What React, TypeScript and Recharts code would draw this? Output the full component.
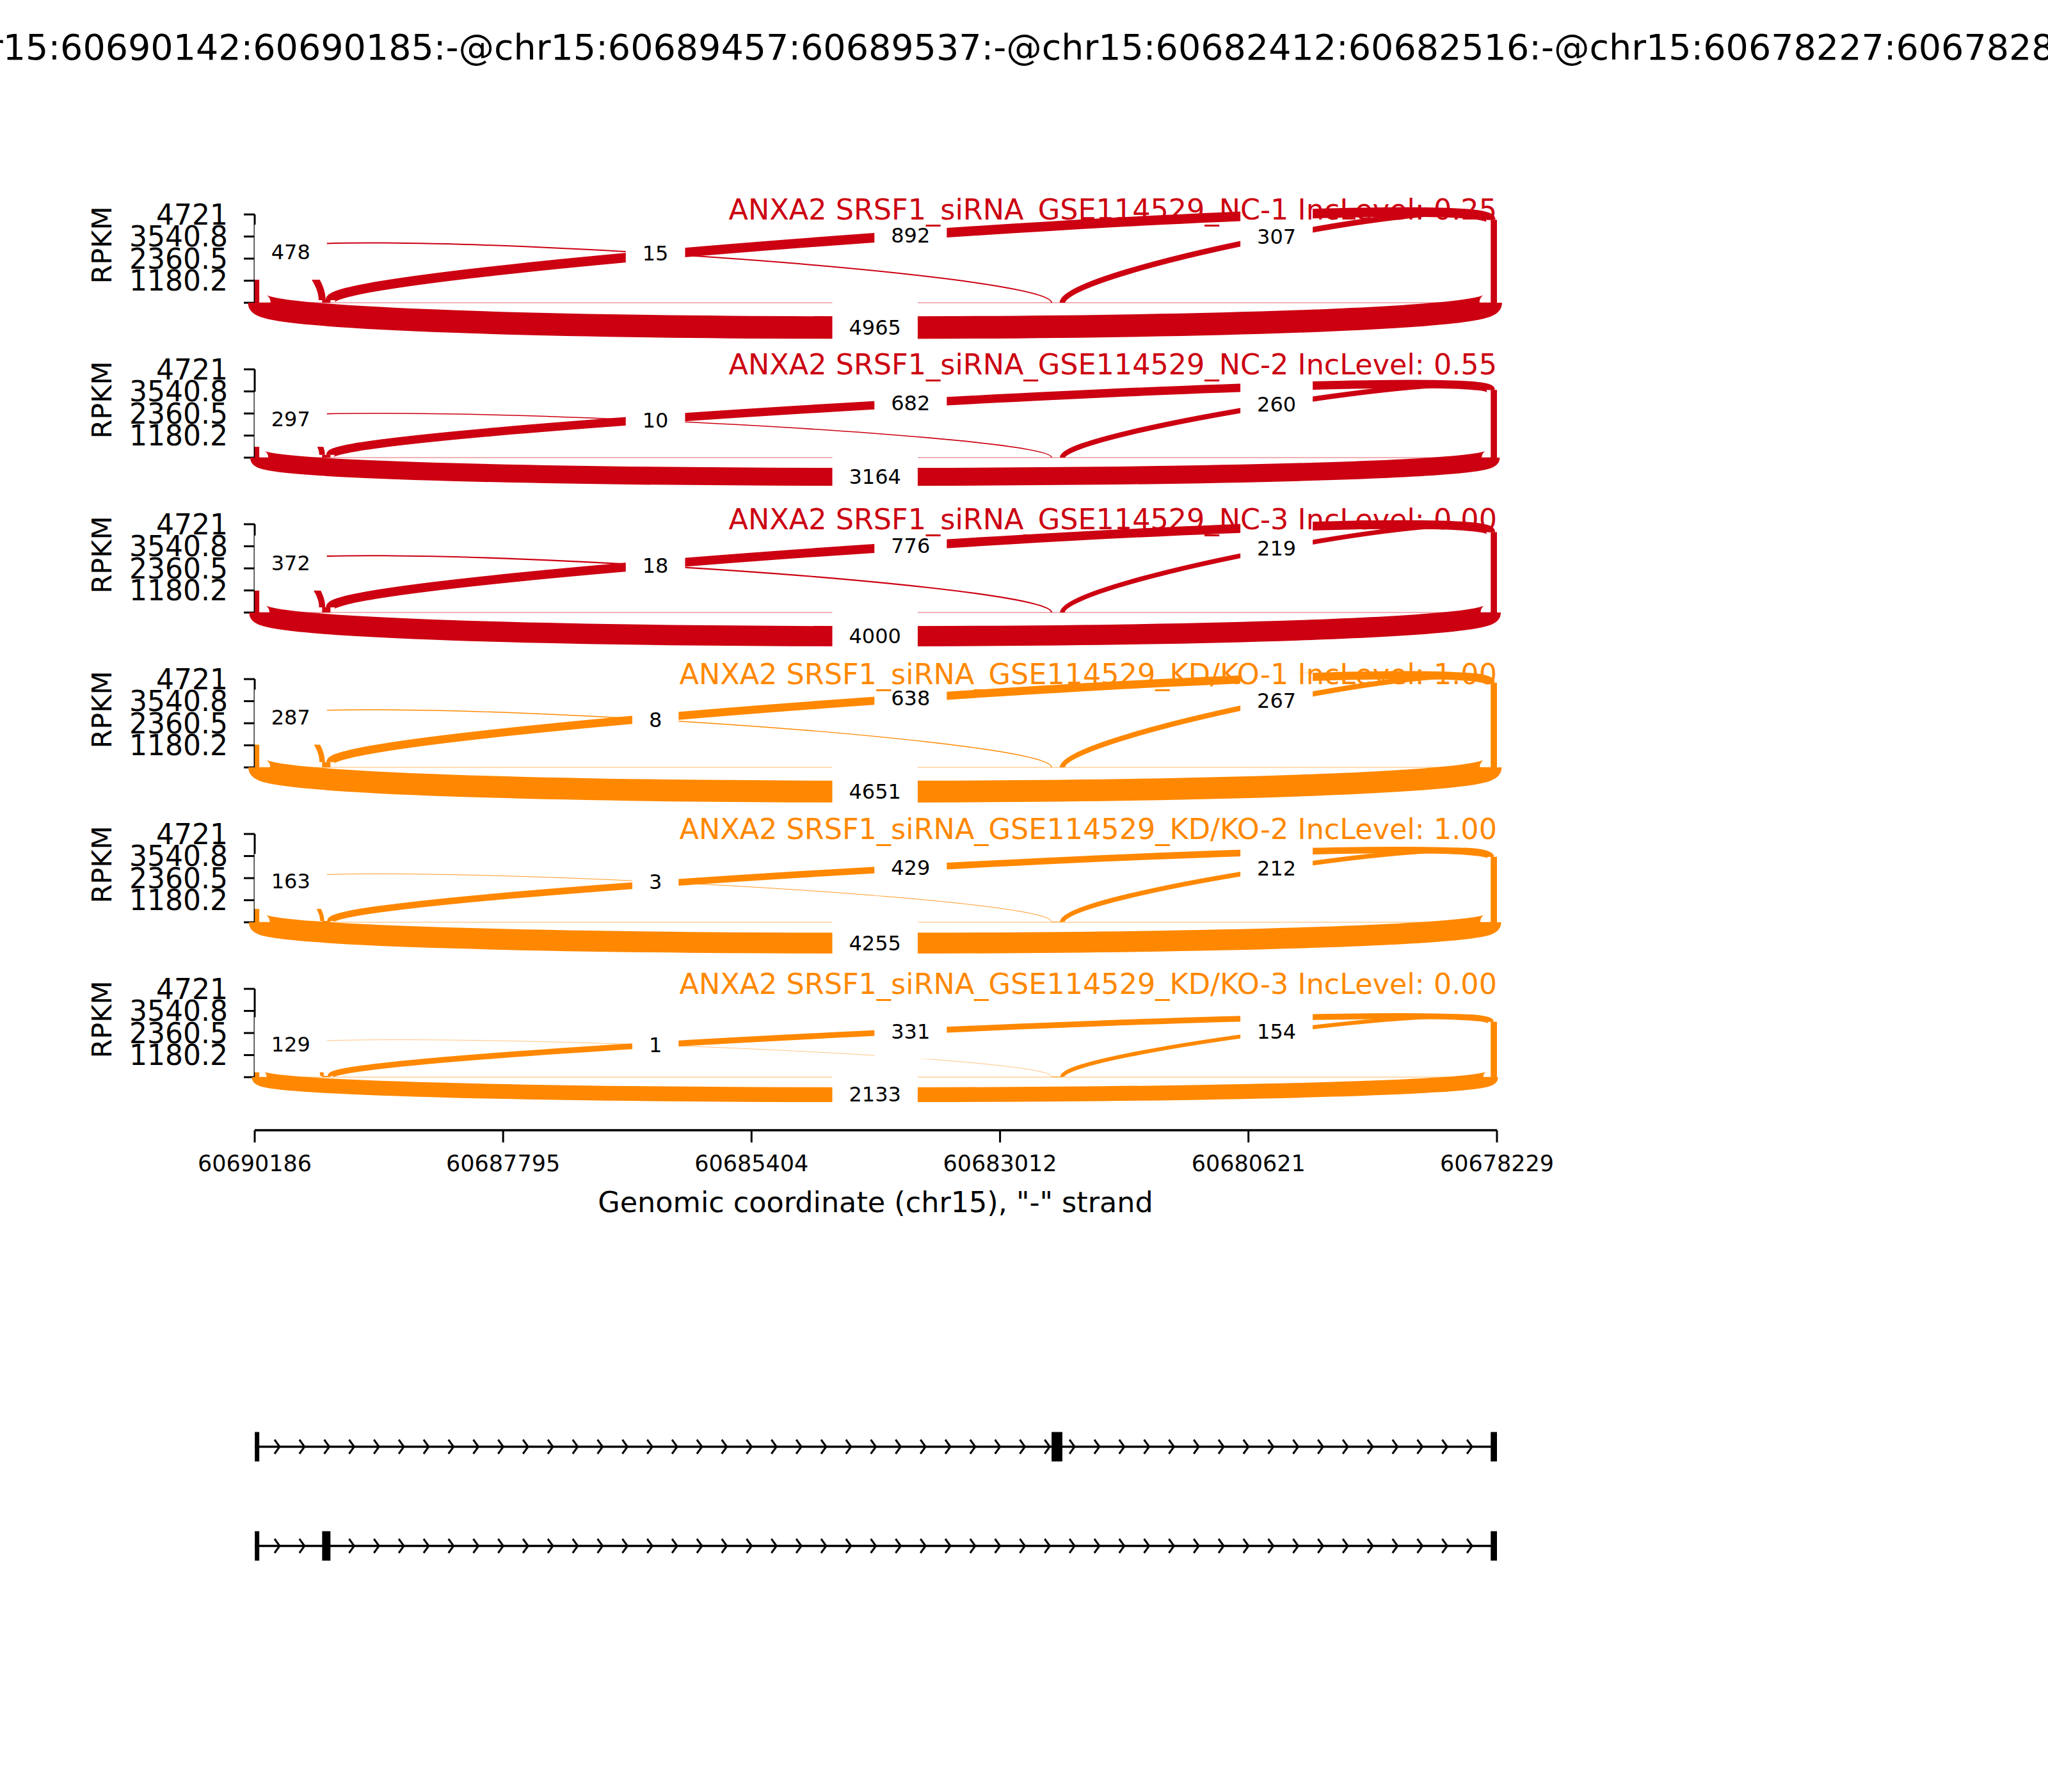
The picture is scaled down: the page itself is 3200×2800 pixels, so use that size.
import React from "react";
import {
  ComposedChart,
  Scatter,
  XAxis,
  YAxis,
  ReferenceLine,
  ReferenceArea,
} from "recharts";

const W = 3200;
const H = 2800;
const FONT = "DejaVu Sans, Verdana, sans-serif";
const RED = "#CC0011";
const ORANGE = "#FF8800";

const mainTitle =
  "chr15:60690142:60690185:-@chr15:60689457:60689537:-@chr15:60682412:60682516:-@chr15:60678227:60678289:-";
const titlePrefix = "ANXA2 SRSF1_siRNA_GSE114529_";
const sampleNames = ["NC-1", "NC-2", "NC-3", "KD/KO-1", "KD/KO-2", "KD/KO-3"];
const sampleGroup = [0, 0, 0, 1, 1, 1];
const incLevels = ["0.25", "0.55", "0.00", "1.00", "1.00", "0.00"];

// genomic window, minus strand so drawn high -> low
const xLeft = 60690186;
const xRight = 60678229;
const xTicks = [60690186, 60687795, 60685404, 60683012, 60680621, 60678229];
const yTicks = [0, 1180.2, 2360.5, 3540.8, 4721];
const yMax = 4721;

// exons (upstream edge, downstream edge)
const exonHi = [60690185, 60689537, 60682516, 60678289];
const exonLo = [60690142, 60689457, 60682412, 60678227];

// junctions: donor exon -> acceptor exon
const jxnFrom = [0, 0, 1, 2, 0];
const jxnTo = [1, 2, 3, 3, 3];
const jxnBelow = [false, false, false, false, true];

const junctionCounts = [
  [478, 15, 892, 307, 4965],
  [297, 10, 682, 260, 3164],
  [372, 18, 776, 219, 4000],
  [287, 8, 638, 267, 4651],
  [163, 3, 429, 212, 4255],
  [129, 1, 331, 154, 2133],
];

// read density (RPKM) on each exon, per sample
const exonRpkm = [
  [2612, 138, 0, 4430],
  [1900, 150, 0, 3620],
  [2476, 280, 0, 4296],
  [2504, 282, 0, 4530],
  [2070, 70, 30, 3500],
  [1530, 60, 30, 2960],
];
const sampleMax = [4721, 3648, 4501, 4597, 3965, 3332];

// gene models
const isoformRows = [2, 1];
const isoformExons = [
  [0, 2, 3],
  [0, 1, 3],
];

// layout
const PLOT_RIGHT = 2339;
const Y_AXIS_W = 398;
const FIRST_ZERO = 473;
const PANEL_STEP = 242;
const PX_PER_RPKM = 138 / 4721;
const Y_TOP = 6400;
const Y_BOTTOM = -2360.5;
const Y_BOTTOM_LAST = -2840;
const AXIS_H = 110;

type P = { x: number; y: number };

const Empty = () => <g />;

const bezier = (p: P[]) =>
  `M${p[0].x},${p[0].y} C${p[1].x},${p[1].y} ${p[2].x},${p[2].y} ${p[3].x},${p[3].y}`;

function JunctionLabel({ pts, text }: { pts: P[]; text: string }) {
  const mx = (pts[0].x + 3 * pts[1].x + 3 * pts[2].x + pts[3].x) / 8;
  const my = (pts[0].y + 3 * pts[1].y + 3 * pts[2].y + pts[3].y) / 8;
  const w = text.length * 0.636 * 32 + 52;
  const h = 86;
  return (
    <g>
      <rect x={mx - w / 2} y={my - h / 2} width={w} height={h} fill="#fff" />
      <text
        x={mx}
        y={my + 11}
        textAnchor="middle"
        fontSize={32}
        fontFamily={FONT}
        fill="#000"
      >
        {text}
      </text>
    </g>
  );
}

function SashimiPanel({ index }: { index: number }) {
  const color = sampleGroup[index] === 0 ? RED : ORANGE;
  const rpkm = exonRpkm[index];
  const counts = junctionCounts[index];
  const h = 0.375 * sampleMax[index];
  const isLast = index === sampleNames.length - 1;
  const yBottom = isLast ? Y_BOTTOM_LAST : Y_BOTTOM;
  const zeroRow = FIRST_ZERO + PANEL_STEP * index;
  const top = zeroRow - Y_TOP * PX_PER_RPKM;
  const plotHeight = (Y_TOP - yBottom) * PX_PER_RPKM;

  const coverage: P[] = [{ x: xLeft, y: 0 }];
  exonHi.forEach((hi, k) => {
    const lo = Math.max(exonLo[k], xRight);
    coverage.push(
      { x: hi, y: 0 },
      { x: hi, y: rpkm[k] },
      { x: lo, y: rpkm[k] },
      { x: lo, y: 0 }
    );
  });
  coverage.push({ x: xRight, y: 0 });

  const arcs = jxnFrom.map((from, j) => {
    const to = jxnTo[j];
    const s = exonLo[from];
    const e = exonHi[to];
    if (jxnBelow[j]) {
      return [
        { x: s, y: 0 },
        { x: s, y: -h },
        { x: e, y: -h },
        { x: e, y: 0 },
      ];
    }
    const dl = rpkm[from];
    const dr = rpkm[to];
    return [
      { x: s, y: dl },
      { x: s, y: dl + h },
      { x: e, y: dr + h },
      { x: e, y: dr },
    ];
  });

  return (
    <div style={{ position: "absolute", left: 0, top }}>
      <ComposedChart
        width={W}
        height={plotHeight + (isLast ? AXIS_H : 0)}
        margin={{ top: 0, right: W - PLOT_RIGHT, bottom: 0, left: 0 }}
      >
        <XAxis
          type="number"
          dataKey="x"
          domain={[xRight, xLeft]}
          reversed
          hide={!isLast}
          ticks={xTicks}
          interval={0}
          height={AXIS_H}
          tickSize={19}
          tickMargin={20}
          axisLine={{ stroke: "#000", strokeWidth: 3.5 }}
          tickLine={{ stroke: "#000", strokeWidth: 3 }}
          tick={{ fontSize: 35, fill: "#000", fontFamily: FONT }}
          tickFormatter={(v) => String(v)}
        />
        <YAxis
          type="number"
          dataKey="y"
          domain={[yBottom, Y_TOP]}
          ticks={yTicks}
          interval={0}
          width={Y_AXIS_W}
          tickSize={17}
          tickMargin={25}
          axisLine={false}
          tickLine={{ stroke: "#000", strokeWidth: 3 }}
          tick={{ fontSize: 44, fill: "#000", fontFamily: FONT }}
          tickFormatter={(v) => (v === 0 ? "" : String(v))}
        />
        <Scatter
          data={coverage}
          shape={Empty}
          isAnimationActive={false}
          line={(p: any) => (
            <path
              d={
                p.points.map((q: P, k: number) => `${k ? "L" : "M"}${q.x},${q.y}`).join(" ") +
                " Z"
              }
              fill={color}
              stroke="none"
            />
          )}
        />
        <ReferenceLine y={0} stroke={color} strokeOpacity={0.3} strokeWidth={2} />
        {arcs.map((pts, j) => (
          <Scatter
            key={`arc-${j}`}
            data={pts}
            shape={Empty}
            isAnimationActive={false}
            line={(p: any) => (
              <path
                d={bezier(p.points)}
                fill="none"
                stroke={color}
                strokeWidth={0.5 * Math.sqrt(counts[j])}
              />
            )}
          />
        ))}
        {arcs.map((pts, j) => (
          <Scatter
            key={`lab-${j}`}
            data={pts}
            shape={Empty}
            isAnimationActive={false}
            line={(p: any) => <JunctionLabel pts={p.points} text={String(counts[j])} />}
          />
        ))}
        <ReferenceLine
          segment={[
            { x: xLeft, y: 0 },
            { x: xLeft, y: yMax },
          ]}
          stroke="#000"
          strokeWidth={3}
          ifOverflow="visible"
        />
      </ComposedChart>
    </div>
  );
}

function IntronLine({ pts }: { pts: P[] }) {
  const [a, b] = pts;
  const n = 50;
  const marks = [];
  for (let i = 1; i < n; i++) {
    const tip = a.x + ((b.x - a.x) * i) / n;
    marks.push(
      <polyline
        key={i}
        points={`${tip - 8},${a.y - 11} ${tip},${a.y} ${tip - 8},${a.y + 11}`}
        fill="none"
        stroke="#000"
        strokeWidth={3}
      />
    );
  }
  return (
    <g>
      <line x1={a.x} y1={a.y} x2={b.x} y2={b.y} stroke="#000" strokeWidth={3.5} />
      {marks}
    </g>
  );
}

function GeneModel() {
  return (
    <div style={{ position: "absolute", left: 0, top: 2182.5 }}>
      <ComposedChart
        width={W}
        height={310}
        margin={{ top: 0, right: W - PLOT_RIGHT, bottom: 0, left: Y_AXIS_W }}
      >
        <XAxis type="number" dataKey="x" domain={[xRight, xLeft]} reversed hide />
        <YAxis type="number" dataKey="y" domain={[0.5, 2.5]} hide />
        {isoformRows.map((row, r) => {
          const ex = isoformExons[r];
          return (
            <Scatter
              key={`iso-${r}`}
              data={[
                { x: exonHi[ex[0]], y: row },
                { x: Math.max(exonLo[ex[ex.length - 1]], xRight), y: row },
              ]}
              shape={Empty}
              isAnimationActive={false}
              line={(p: any) => <IntronLine pts={p.points} />}
            />
          );
        })}
        {isoformRows.map((row, r) =>
          isoformExons[r].map((k) => (
            <ReferenceArea
              key={`ex-${r}-${k}`}
              x1={exonHi[k]}
              x2={Math.max(exonLo[k], xRight)}
              y1={row - 0.1484}
              y2={row + 0.1484}
              fill="#000"
              fillOpacity={1}
              stroke="none"
              ifOverflow="visible"
            />
          ))
        )}
      </ComposedChart>
    </div>
  );
}

export default function App() {
  return (
    <div
      style={{
        position: "absolute",
        left: 0,
        top: 0,
        width: W,
        height: H,
        background: "#fff",
        overflow: "hidden",
      }}
    >
      {sampleNames.map((_, i) => (
        <SashimiPanel key={i} index={i} />
      ))}
      <GeneModel />
      <svg
        width={W}
        height={H}
        style={{ position: "absolute", left: 0, top: 0, pointerEvents: "none" }}
      >
        <text
          x={1600}
          y={93}
          textAnchor="middle"
          fontSize={55.5}
          fontFamily={FONT}
          fill="#000"
        >
          {mainTitle}
        </text>
        {sampleNames.map((name, i) => {
          const zero = FIRST_ZERO + PANEL_STEP * i;
          return (
            <g key={name}>
              <text
                x={PLOT_RIGHT}
                y={zero - 130}
                textAnchor="end"
                fontSize={44.5}
                fontFamily={FONT}
                fill={sampleGroup[i] === 0 ? RED : ORANGE}
              >
                {`${titlePrefix}${name} IncLevel: ${incLevels[i]}`}
              </text>
              <text
                x={174}
                y={zero - 90}
                textAnchor="middle"
                fontSize={43}
                fontFamily={FONT}
                fill="#000"
                transform={`rotate(-90 174 ${zero - 90})`}
              >
                RPKM
              </text>
            </g>
          );
        })}
        <text
          x={1368}
          y={1894}
          textAnchor="middle"
          fontSize={44.5}
          fontFamily={FONT}
          fill="#000"
        >
          Genomic coordinate (chr15), "-" strand
        </text>
      </svg>
    </div>
  );
}
